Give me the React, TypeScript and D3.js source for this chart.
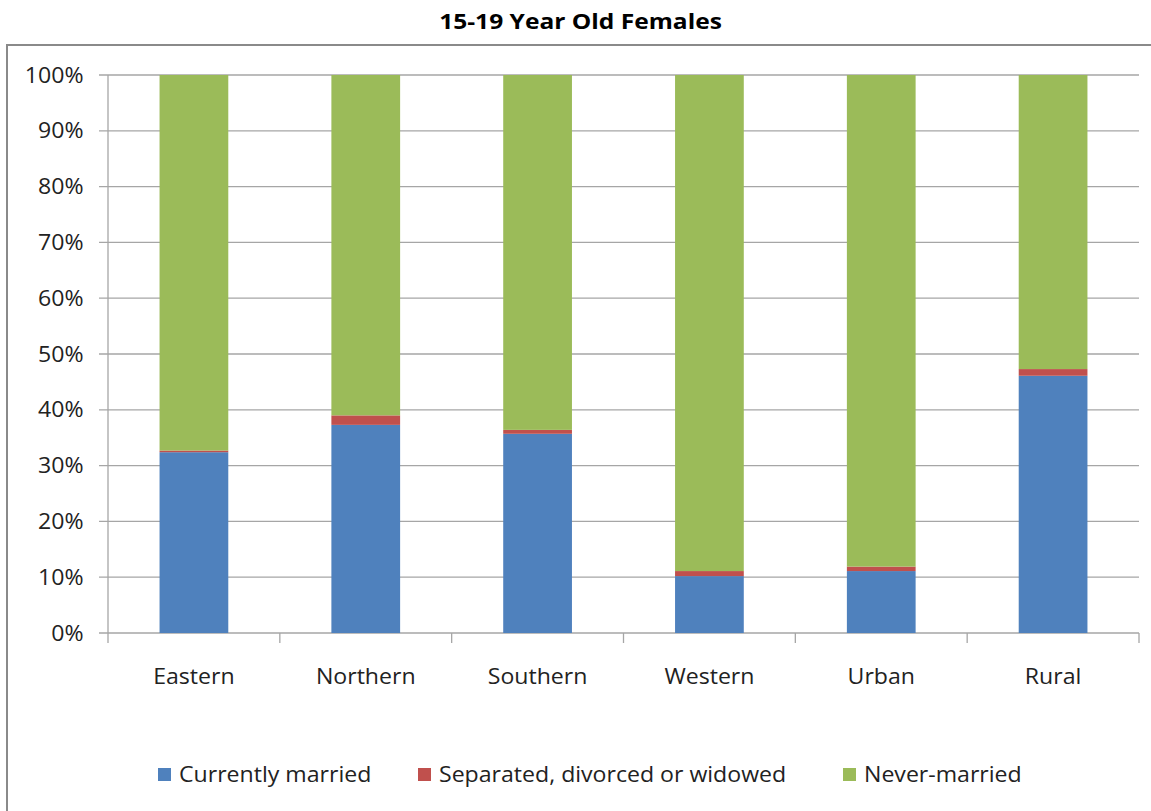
import React from "react";
import * as d3 from "d3";

const categories = ["Eastern", "Northern", "Southern", "Western", "Urban", "Rural"];
const currentlyMarried = [32.4, 37.3, 35.7, 10.2, 11.1, 46.1];
const separated = [0.3, 1.7, 0.7, 0.9, 0.8, 1.2];
const neverMarried = categories.map((_, i) => 100 - currentlyMarried[i] - separated[i]);
const seriesNames = ["Currently married", "Separated, divorced or widowed", "Never-married"];
const seriesColors = ["#4F81BD", "#C0504D", "#9BBB59"];
const yTicks = [0, 10, 20, 30, 40, 50, 60, 70, 80, 90, 100];

const W = 1151;
const H = 811;
const FONT = "'Open Sans', Lato, sans-serif";

function T(props: {
  x: number;
  y: number;
  sx: number;
  anchor?: "start" | "middle" | "end";
  size: number;
  bold?: boolean;
  fill?: string;
  children: React.ReactNode;
}) {
  return (
    <text
      transform={`translate(${props.x},${props.y}) scale(${props.sx},1)`}
      textAnchor={props.anchor || "start"}
      fontFamily={FONT}
      fontSize={props.size}
      fontWeight={props.bold ? "bold" : "normal"}
      fill={props.fill || "#222"}
    >
      {props.children}
    </text>
  );
}

export default function App() {
  const left = 108;
  const right = 1139;
  const top = 75;
  const bottom = 633;
  const x = d3.scaleBand<string>().domain(categories).range([left, right]).paddingInner(0.6).paddingOuter(0.3);
  const xOuter = d3.scaleBand<string>().domain(categories).range([left, right]);
  const y = d3.scaleLinear().domain([0, 100]).range([bottom, top]);

  const rows = categories.map((c, i) => ({
    cat: c,
    v0: currentlyMarried[i],
    v1: separated[i],
    v2: neverMarried[i],
  }));
  const stack = d3.stack<any>().keys(["v0", "v1", "v2"]);
  const series = stack(rows);

  const legendX = [158, 418, 843];
  const SX = 1.1;

  return (
    <svg width={W} height={H} style={{ position: "absolute", left: 0, top: 0, background: "#fff" }}>
      <rect x={0} y={0} width={W} height={H} fill="#fff" />
      <T x={580.5} y={28.5} sx={1.17} anchor="middle" size={21} bold fill="#000">
        15-19 Year Old Females
      </T>
      <path d={`M7,${H + 5} V45 H${W + 5}`} fill="none" stroke="#8a8a8a" strokeWidth={2} />
      {yTicks.map((t) => (
        <g key={t}>
          <line x1={left - 9} x2={right} y1={y(t)} y2={y(t)} stroke="#a6a6a6" strokeWidth={1.3} />
          <T x={83.5} y={y(t) + 7.5} sx={SX} anchor="end" size={21}>
            {t}%
          </T>
        </g>
      ))}
      <line x1={left} x2={left} y1={top} y2={bottom} stroke="#a6a6a6" strokeWidth={1.3} />
      {categories.map((c) => (
        <line key={c} x1={(xOuter(c) as number) + xOuter.bandwidth()} x2={(xOuter(c) as number) + xOuter.bandwidth()} y1={bottom} y2={bottom + 10} stroke="#a6a6a6" strokeWidth={1.3} />
      ))}
      <line x1={left} x2={left} y1={bottom} y2={bottom + 10} stroke="#a6a6a6" strokeWidth={1.3} />
      {series.map((s, si) =>
        s.map((d, i) => (
          <rect
            key={`${si}-${i}`}
            x={x(categories[i])}
            width={x.bandwidth()}
            y={y(d[1])}
            height={y(d[0]) - y(d[1])}
            fill={seriesColors[si]}
          />
        ))
      )}
      {categories.map((c) => (
        <T key={c} x={(xOuter(c) as number) + xOuter.bandwidth() / 2} y={683.5} sx={SX} anchor="middle" size={21}>
          {c}
        </T>
      ))}
      {seriesNames.map((n, i) => (
        <g key={n}>
          <rect x={legendX[i]} y={768} width={13} height={13} fill={seriesColors[i]} />
          <T x={legendX[i] + 21} y={781.5} sx={SX} size={21}>
            {n}
          </T>
        </g>
      ))}
    </svg>
  );
}
